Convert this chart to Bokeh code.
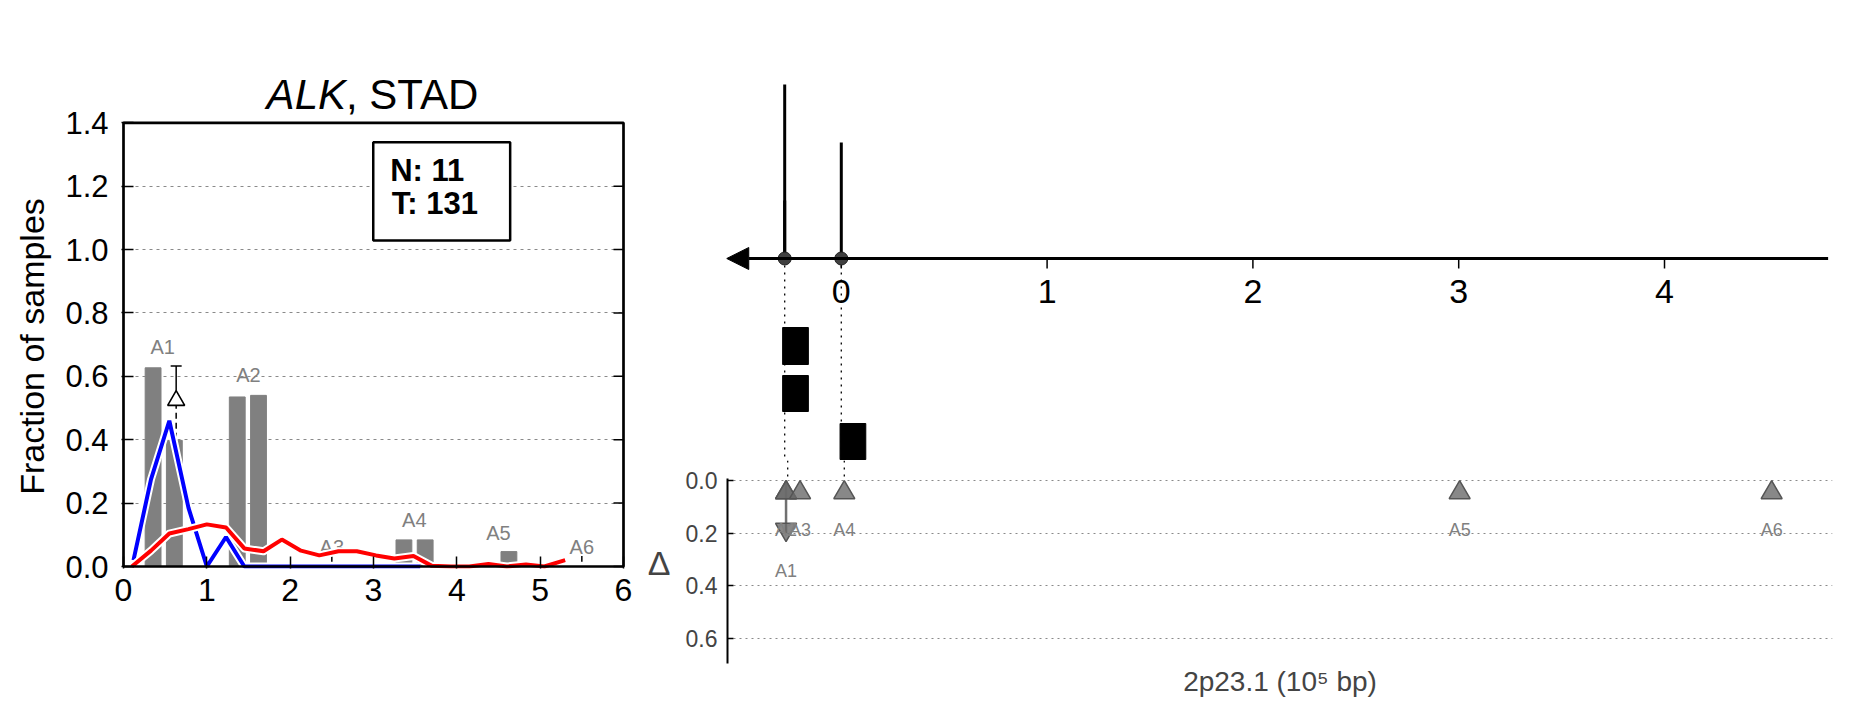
import math
from bokeh.plotting import figure
from bokeh.models import (Range1d, FixedTicker, NumeralTickFormatter, Label,
                          BoxAnnotation, Arrow, NormalHead)
from bokeh.layouts import row, column
from bokeh.embed import file_html
from bokeh.resources import INLINE
from bokeh.core.properties import value

FONT = "Liberation Sans"

# ---------------- left panel data ----------------
gene = "ALK"
cohort = "STAD"
y_title = "Fraction of samples"
n_normal = 11
n_tumor = 131
x_ticks = [0, 1, 2, 3, 4, 5, 6]
y_ticks = [0.0, 0.2, 0.4, 0.6, 0.8, 1.0, 1.2, 1.4]
grid_ticks = [0.2, 0.4, 0.6, 0.8, 1.0, 1.2]

bar_x = [0.355, 0.61, 1.365, 1.62, 3.365, 3.62, 4.625]
bar_top = [0.627, 0.398, 0.535, 0.54, 0.084, 0.084, 0.047]

blue_x = [0.12, 0.33, 0.55, 0.78, 1.0, 1.23, 1.45, 1.68, 1.9, 2.13, 2.35, 2.58, 2.8, 3.03, 3.25, 3.48, 3.56]
blue_y = [0.02, 0.275, 0.46, 0.185, 0.0, 0.093, 0.0, 0.0, 0.0, 0.0, 0.0, 0.0, 0.0, 0.0, 0.0, 0.0, 0.0]

red_x = [0.1, 0.33, 0.55, 0.78, 1.0, 1.23, 1.45, 1.68, 1.9, 2.13, 2.35, 2.58, 2.8, 3.03,
         3.25, 3.48, 3.7, 3.93, 4.15, 4.38, 4.6, 4.83, 5.05, 5.3]
red_y = [0.0, 0.05, 0.104, 0.118, 0.133, 0.123, 0.057, 0.048, 0.085, 0.05, 0.035, 0.048,
         0.048, 0.035, 0.025, 0.033, 0.002, 0.0, 0.0, 0.008, 0.0, 0.006, 0.0, 0.02]

seg_names = ["A1", "A2", "A3", "A4", "A5", "A6"]
seg_lab_x = [0.47, 1.5, 2.5, 3.49, 4.5, 5.5]
seg_lab_y = [0.692, 0.603, 0.061, 0.146, 0.105, 0.062]
tiny_x = [2.5, 5.5]
tiny_lo = [0.015, 0.015]
tiny_hi = [0.032, 0.033]

err_x = [0.632]
err_lo = [0.403]
err_mid = [0.524]
err_hi = [0.633]

# ---------------- right panel data ----------------
gpos_ticks = [0, 1, 2, 3, 4]
stem_x = [-0.275, -0.275, 0.0]
stem_h = [1.74, 0.58, 1.16]
site_x = [-0.275, 0.0]
blk_left = [-0.285, -0.285, -0.006]
blk_right = [-0.160, -0.160, 0.119]
blk_top = [-0.69, -1.17, -1.65]
blk_bottom = [-1.06, -1.53, -2.01]
delta_ticks = [0.0, 0.2, 0.4, 0.6]
delta_x = [-0.283, -0.283, -0.215, 0.0, 2.99, 4.506]
delta_start = [0.045, 0.045, 0.045, 0.045, 0.045, 0.045]
a1_x = [-0.283]
a1_end = [0.185]
delta_lab_y = [0.342, 0.187, 0.187, 0.187, 0.187, 0.187]


def no_align(fig):
    if "frame_align" in fig.properties():
        fig.frame_align = False


common = dict(output_backend="svg", toolbar_location=None, title=None)

# =============== Y-TITLE STRIP ===============
Y = figure(x_range=Range1d(0, 60), y_range=Range1d(626, 0), frame_width=60, frame_height=626,
           min_border_left=0, min_border_right=0, min_border_top=0, min_border_bottom=0,
           x_axis_type=None, y_axis_type=None, **common)
Y.outline_line_color = None
Y.text(x=[31.5], y=[346], text=[y_title], angle=math.pi / 2, text_font=value(FONT),
       text_font_size="34px", text_align="center", text_baseline="middle", text_color="black")

# =============== LEFT FIGURE ===============
px_x = 1 / 83.33
px_y = 1 / 316.9
L = figure(x_range=Range1d(-2 * px_x, 6 + 2 * px_x), y_range=Range1d(-2 * px_y, 500 * px_y),
           frame_width=504, frame_height=502,
           min_border_left=61, min_border_right=19, min_border_top=66, min_border_bottom=58,
           **common)
L.outline_line_color = None
L.xgrid.visible = False
L.ygrid.ticker = FixedTicker(ticks=grid_ticks)
L.ygrid.grid_line_color = "#8a8a8a"
L.ygrid.grid_line_dash = "3 4"
L.ygrid.grid_line_width = 1

for ax in (L.xaxis[0], L.yaxis[0]):
    ax.axis_line_color = None
    ax.major_tick_in = 12
    ax.major_tick_out = 0
    ax.minor_tick_in = 0
    ax.minor_tick_out = 0
    ax.major_tick_line_width = 1.5
    ax.major_label_text_font = FONT
    ax.major_label_text_color = "black"
L.xaxis.ticker = FixedTicker(ticks=x_ticks)
L.xaxis.major_label_text_font_size = "32px"
L.xaxis.major_label_standoff = 10
L.yaxis.ticker = FixedTicker(ticks=y_ticks)
L.yaxis.bounds = (y_ticks[0], y_ticks[-1])
L.yaxis.formatter = NumeralTickFormatter(format="0.0")
L.yaxis.major_label_text_font_size = "31px"
L.yaxis.major_label_standoff = 13

# frame box
L.add_layout(BoxAnnotation(left=x_ticks[0], right=x_ticks[-1], bottom=y_ticks[0], top=y_ticks[-1],
                           fill_alpha=0.0, line_color="black", line_width=2.7, line_alpha=1.0))

# inward ticks on the right edge
tick_len = 10 * px_x
L.segment(x0=[x_ticks[-1] - tick_len] * len(y_ticks), y0=y_ticks,
          x1=[x_ticks[-1]] * len(y_ticks), y1=y_ticks, line_color="black", line_width=1.5)

L.vbar(x=bar_x, width=0.19, top=bar_top, bottom=0, color="#808080")
L.segment(x0=tiny_x, y0=tiny_lo, x1=tiny_x, y1=tiny_hi, line_color="black", line_width=1.5)
L.text(x=seg_lab_x, y=seg_lab_y, text=seg_names, text_font=value(FONT), text_font_size="20px",
       text_color="#808080", text_align="center", text_baseline="middle")

# error bar with open triangle
L.segment(x0=err_x, y0=err_mid, x1=err_x, y1=err_hi, line_color="black", line_width=1.5)
L.segment(x0=err_x, y0=err_lo, x1=err_x, y1=err_mid, line_color="black", line_width=1.5, line_dash="6 4")
L.scatter(x=err_x, y=err_hi, marker="dash", size=11, line_color="black", line_width=1.5)
L.scatter(x=err_x, y=err_mid, marker="triangle", size=17, fill_color="white",
          line_color="black", line_width=1.6)

# lines with white halos
L.line(blue_x, blue_y, line_color="white", line_width=8, line_join="round")
L.line(blue_x, blue_y, line_color="#0000ff", line_width=4)
L.line(red_x, red_y, line_color="white", line_width=8, line_join="round")
L.line(red_x, red_y, line_color="#ff0000", line_width=4)

# N / T box
L.add_layout(BoxAnnotation(left=2.997, right=4.64, top=1.339, bottom=1.029,
                           fill_color="white", fill_alpha=1.0, line_color="black",
                           line_width=2.5, line_alpha=1.0))
L.add_layout(Label(x=3.2, y=1.2496, text=f"N: {n_normal}", text_font=FONT,
                   text_font_size="31px", text_font_style="bold", text_align="left",
                   text_baseline="middle", text_color="black"))
L.add_layout(Label(x=3.22, y=1.1455, text=f"T: {n_tumor}", text_font=FONT,
                   text_font_size="31px", text_font_style="bold", text_align="left",
                   text_baseline="middle", text_color="black"))

# title: italic gene + normal cohort
L.add_layout(Label(x=2.67, y=1.4894, text=gene, text_font=FONT, text_font_size="42px",
                   text_font_style="italic", text_align="right", text_baseline="middle",
                   text_color="black"))
L.add_layout(Label(x=2.67, y=1.4894, text=f", {cohort}", text_font=FONT, text_font_size="42px",
                   text_font_style="normal", text_align="left", text_baseline="middle",
                   text_color="black"))

# =============== RIGHT: upper genomic strip ===============
xr_right = Range1d(-0.5675, 4.8017)
U = figure(x_range=xr_right, y_range=Range1d(-2.02, 1.88),
           frame_width=1105, frame_height=390,
           min_border_left=80, min_border_right=10, min_border_top=70, min_border_bottom=0,
           x_axis_type=None, y_axis_type=None, **common)
U.outline_line_color = None

U.add_layout(Arrow(x_start=4.795, y_start=0, x_end=-0.5565, y_end=0, line_width=3,
                   line_color="black",
                   end=NormalHead(size=22, fill_color="black", line_color="black", line_width=1)))
U.segment(x0=gpos_ticks, y0=[0] * len(gpos_ticks), x1=gpos_ticks, y1=[-0.10] * len(gpos_ticks),
          line_color="black", line_width=1.5)
U.text(x=gpos_ticks, y=[-0.33] * len(gpos_ticks), text=[str(t) for t in gpos_ticks],
       text_font=value(FONT), text_font_size="34px", text_align="center",
       text_baseline="middle", text_color="black")

# dotted guides from sites down to the delta panel
U.segment(x0=site_x, y0=[0] * len(site_x), x1=site_x, y1=[-2.02] * len(site_x),
          line_color="black", line_width=1.3, line_dash="2 5")

# stems
U.segment(x0=stem_x, y0=[0] * len(stem_x), x1=stem_x, y1=stem_h, line_color="black", line_width=3)
U.scatter(x=site_x, y=[0] * len(site_x), marker="circle", size=13, fill_color="#404040",
          line_color="#202020", line_width=1)

# black blocks
U.quad(left=blk_left, right=blk_right, top=blk_top, bottom=blk_bottom, color="black")

# =============== RIGHT: delta panel ===============
d_top = -0.0773
D = figure(x_range=xr_right, y_range=Range1d(start=0.703, end=d_top),
           frame_width=1105, frame_height=205,
           min_border_left=80, min_border_right=10, min_border_top=0, min_border_bottom=43,
           **common)
D.outline_line_color = None
D.xgrid.visible = False
D.ygrid.ticker = FixedTicker(ticks=delta_ticks)
D.ygrid.grid_line_color = "#8a8a8a"
D.ygrid.grid_line_dash = "2 4"
D.ygrid.grid_line_width = 1

D.yaxis.ticker = FixedTicker(ticks=delta_ticks)
D.yaxis.bounds = (-0.0088, 0.696)
D.yaxis.formatter = NumeralTickFormatter(format="0.0")
D.yaxis.major_tick_in = 6
D.yaxis.major_tick_out = 0
D.yaxis.minor_tick_in = 0
D.yaxis.minor_tick_out = 0
D.yaxis.axis_line_width = 2
D.yaxis.major_tick_line_width = 1.5
D.yaxis.major_label_text_font = FONT
D.yaxis.major_label_text_font_size = "23px"
D.yaxis.major_label_standoff = 10
D.yaxis.axis_label = "\u0394"
D.yaxis.axis_label_orientation = "horizontal"
D.yaxis.axis_label_text_font = FONT
D.yaxis.axis_label_text_font_size = "34px"
D.yaxis.axis_label_text_font_style = "normal"
D.yaxis.axis_label_standoff = 12

D.xaxis.ticker = FixedTicker(ticks=[])
D.xaxis.axis_line_color = None
D.xaxis.major_tick_line_color = None
D.xaxis.minor_tick_line_color = None
D.xaxis.major_label_standoff = 0
D.xaxis.axis_label = "2p23.1 (10\u2075 bp)"
D.xaxis.axis_label_text_font = FONT
D.xaxis.axis_label_text_font_size = "28px"
D.xaxis.axis_label_text_font_style = "normal"
D.xaxis.axis_label_standoff = 0

D.segment(x0=site_x, y0=[d_top] * len(site_x), x1=site_x, y1=[0.0] * len(site_x),
          line_color="black", line_width=1.3, line_dash="2 5")
D.segment(x0=a1_x, y0=[0.0], x1=a1_x, y1=[0.2], line_color="#707070", line_width=2.5)
D.scatter(x=a1_x, y=a1_end, marker="inverted_triangle", size=21, fill_color="#6a6a6a",
          fill_alpha=0.8, line_color="#555555", line_width=1.5)
D.scatter(x=delta_x, y=delta_start, marker="triangle", size=21, fill_color="#6a6a6a",
          fill_alpha=0.8, line_color="#555555", line_width=1.5)
D.text(x=delta_x, y=delta_lab_y, text=seg_names, text_font=value(FONT), text_font_size="18px",
       text_color="#808080", text_align="center", text_baseline="middle")

for f in (Y, L, U, D):
    no_align(f)

layout = row(Y, L, column(U, D))
open("out.html", "w").write(file_html(layout, INLINE))
